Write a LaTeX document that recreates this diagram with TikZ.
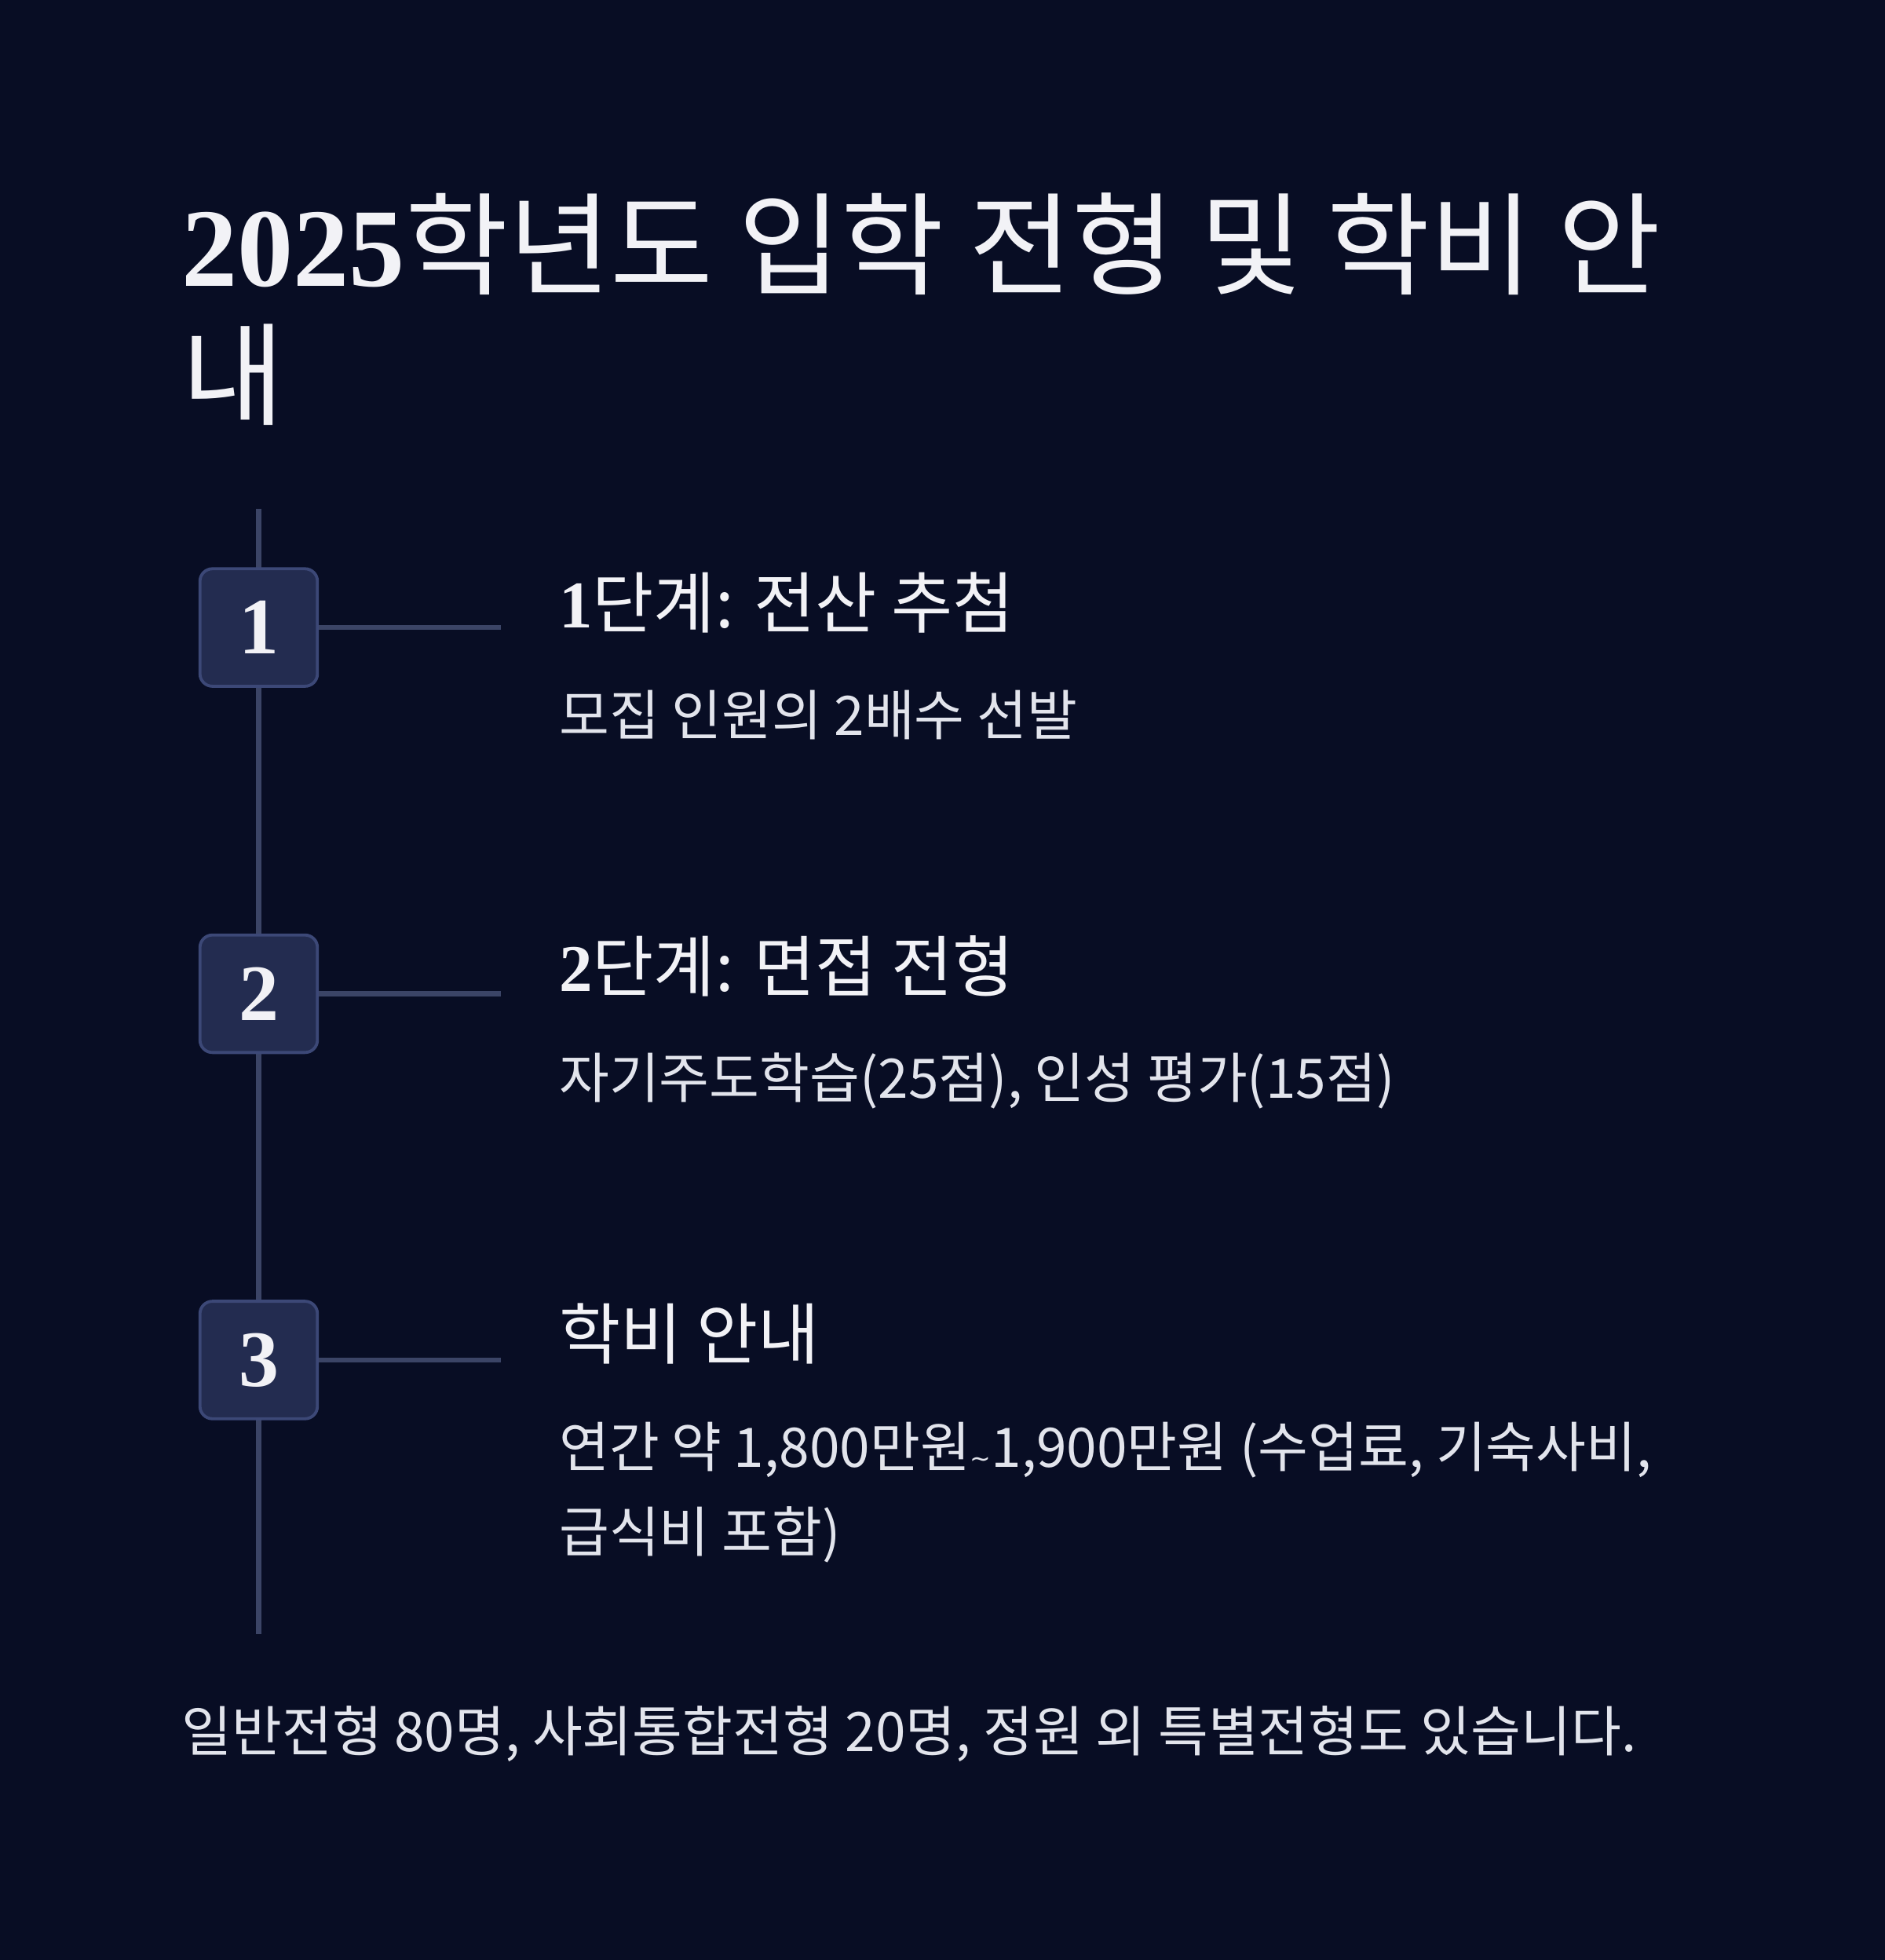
\documentclass[tikz,border=0pt]{standalone}
\usepackage{fontspec}
\setmainfont{Noto Sans CJK KR}
\newfontfamily\numf{Liberation Serif}
\newfontfamily\dvs{DejaVu Sans}
\definecolor{bg}{HTML}{080D24}
\definecolor{ln}{HTML}{3B4466}
\definecolor{bx}{HTML}{232C50}
\definecolor{bxd}{HTML}{3C4877}
\definecolor{tx}{HTML}{F2F2F6}
\definecolor{st}{HTML}{E2E4EC}
\begin{document}
\begin{tikzpicture}[x=0.5pt,y=-0.5pt,
  numbox/.style={draw=bxd,line width=1.2pt,fill=bx,rounded corners=5pt,minimum size=47pt,inner sep=0pt,text=tx,font=\numf\bfseries\fontsize{32}{32}\selectfont},
  head/.style={anchor=west,text=tx,font=\fontsize{26.7}{30}\selectfont,inner sep=0pt},
  sub/.style={anchor=west,text=st,font=\fontsize{21.8}{26}\selectfont,inner sep=0pt},
  conn/.style={draw=ln,line width=2pt}]
\fill[bg] (0,0) rectangle (1508,1568);
\node[anchor=west,text=tx,inner sep=0pt,font=\fontsize{44.7}{52}\selectfont] (t1) at (145,195) {{\numf\bfseries 2025}학년도 입학 전형 및 학비 안};
\node[anchor=west,text=tx,inner sep=0pt,font=\fontsize{44.7}{52}\selectfont] (t2) at (145,300) {내};
\coordinate (top) at (207,407);
\coordinate (bot) at (207,1307);
\draw[conn] (top) -- (bot);
\foreach \i/\y in {1/502,2/795,3/1088}{
  \node[numbox] (b\i) at (207,\y) {\i};
  \coordinate (e\i) at (401,\y);
  \draw[conn] (b\i.east) -- (e\i);
}
\node[head] (h1) at (447,482) {{\numf\bfseries 1}단계: 전산 추첨};
\node[sub] (s1) at (447,572) {모집 인원의 2배수 선발};
\node[head] (h2) at (447,773) {{\numf\bfseries 2}단계: 면접 전형};
\node[sub] (s2) at (447,865) {자기주도학습(25점), 인성 평가(15점)};
\node[head] (h3) at (447,1067) {학비 안내};
\node[sub] (s3) at (447,1160) {연간 약 1,800만원{\dvs\fontsize{10}{10}\selectfont\char"007E}1,900만원 (수업료, 기숙사비,};
\node[sub] (s3b) at (447,1228) {급식비 포함)};
\node[sub] (f) at (145,1387) {일반전형 80명, 사회통합전형 20명, 정원 외 특별전형도 있습니다.};
\end{tikzpicture}
\end{document}
